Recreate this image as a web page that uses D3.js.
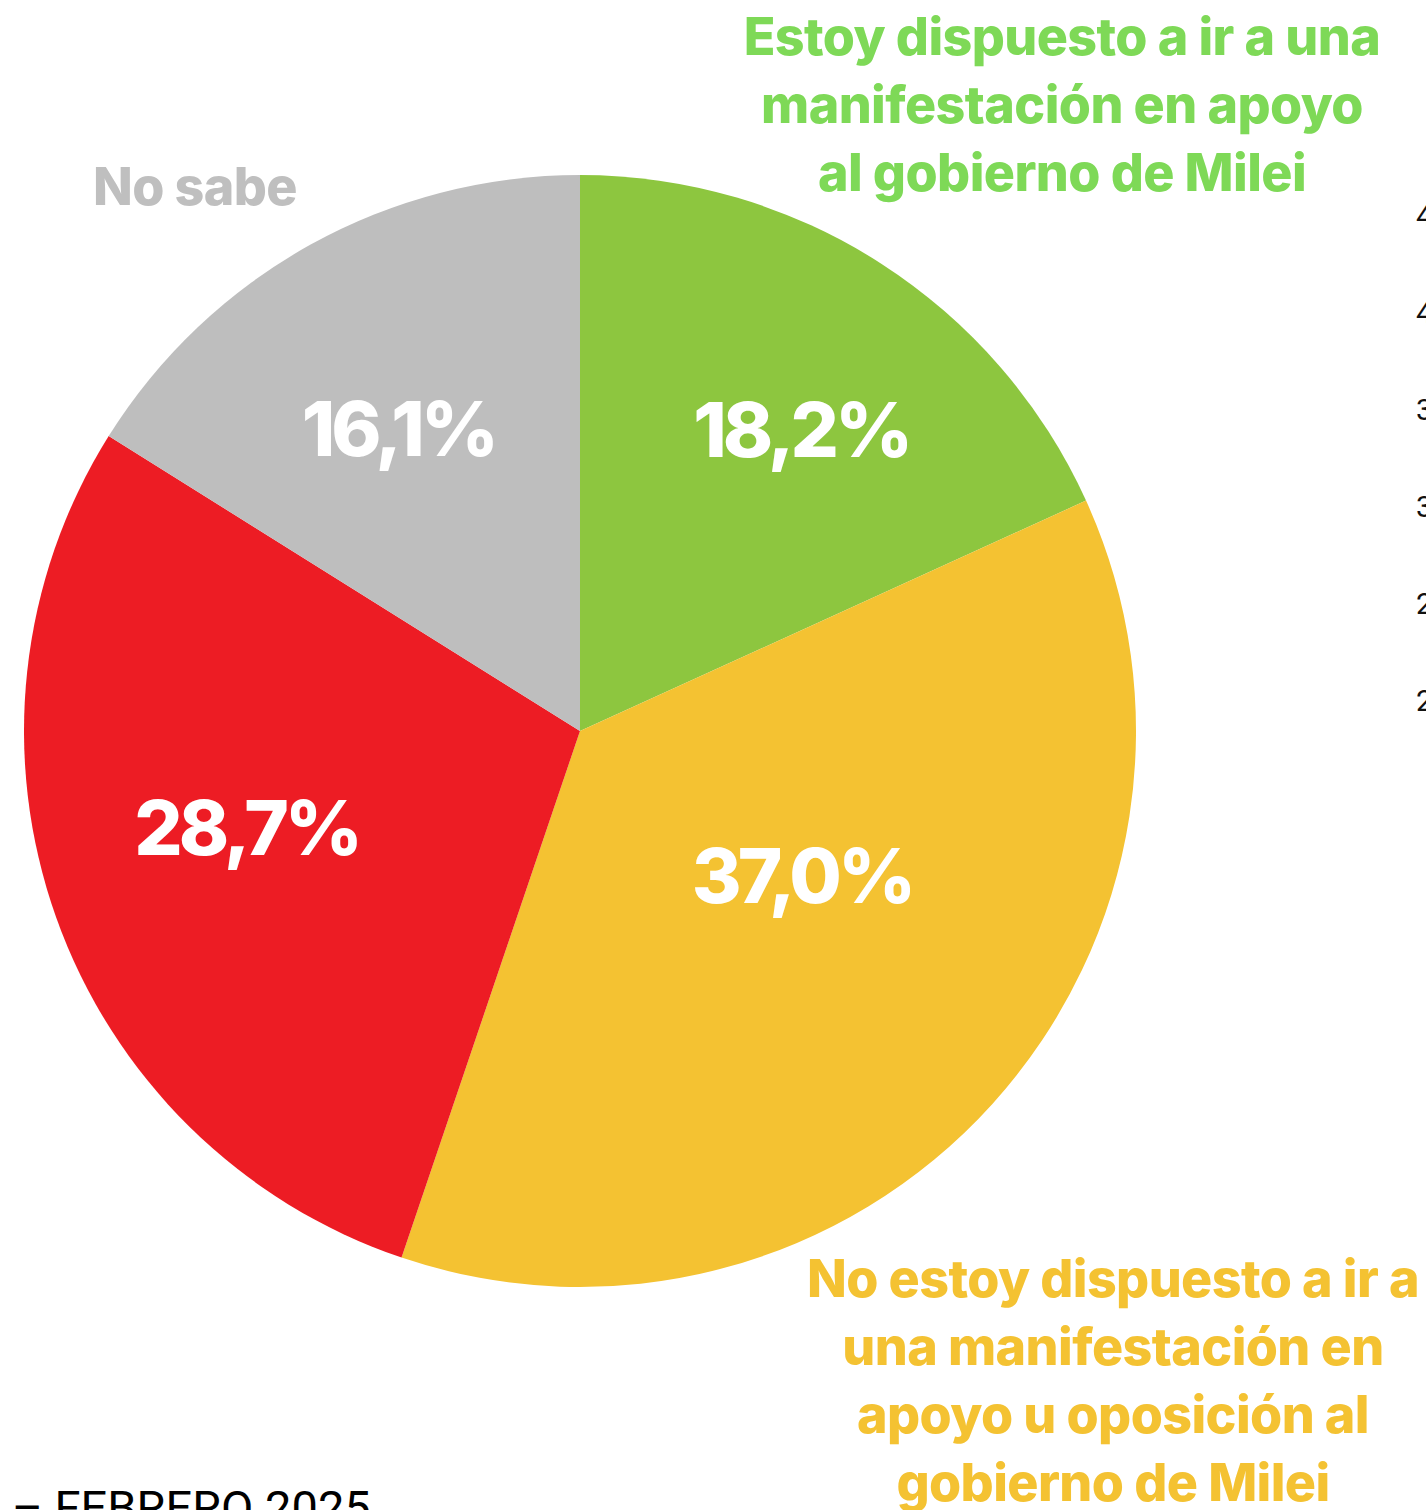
<!DOCTYPE html>
<html>
<head>
<meta charset="utf-8">
<script src="https://cdn.jsdelivr.net/npm/d3@7"></script>
<style>
  body { margin: 0; background: #ffffff; }
  svg { display: block; }
</style>
</head>
<body>
<div id="chart"></div>
<script>
/* DATA */
const categories = ["apoyo", "neutral", "oposicion", "nosabe"];
const values = [18.2, 37.0, 28.7, 16.1];
const valueLabels = ["18,2%", "37,0%", "28,7%", "16,1%"];
const categoryLabels = [
  ["Estoy dispuesto a ir a una", "manifestación en apoyo", "al gobierno de Milei"],
  ["No estoy dispuesto a ir a", "una manifestación en", "apoyo u oposición al", "gobierno de Milei"],
  [],
  ["No sabe"]
];
// tick labels of the neighbouring chart, cut by the right edge
const sideTicks = [45, 40, 35, 30, 25, 20];

/* CONSTANTS */
const width = 1426, height = 1510;
const cx = 580, cy = 731, radius = 556;
const sliceColors = ["#8DC63F", "#F4C232", "#ED1C24", "#BEBEBE"];
const textColors = ["#7ED957", "#F4C232", "#ED1C24", "#BFBFBF"];
const labelRadius = [374, 265, 347, 353];
const labelAngleShift = [3.5, -9, 3.5, -2];   // degrees
const titlePos = [[1062, 55], [1113, 1297], [0, 0], [195, 205]];
const font = "Inter, 'Noto Sans', sans-serif";

const svg = d3.select("#chart")
  .append("svg")
  .attr("width", width)
  .attr("height", height);

/* PIE */
const pie = d3.pie().sort(null).value(d => d.value);
const arc = d3.arc().innerRadius(0).outerRadius(radius);
const data = categories.map((c, i) => ({ key: c, value: values[i], i }));
const arcs = pie(data);

const g = svg.append("g").attr("transform", `translate(${cx},${cy})`);

g.selectAll("path")
  .data(arcs)
  .join("path")
  .attr("d", arc)
  .attr("fill", d => sliceColors[d.data.i]);

// value labels
g.selectAll(".value")
  .data(arcs)
  .join("text")
  .attr("class", "value")
  .attr("transform", d => {
    const a = (d.startAngle + d.endAngle) / 2 + labelAngleShift[d.data.i] * Math.PI / 180;
    const r = labelRadius[d.data.i];
    return `translate(${r * Math.sin(a)},${-r * Math.cos(a)})`;
  })
  .attr("text-anchor", "middle")
  .attr("dy", "0.36em")
  .attr("fill", "#ffffff")
  .style("font-family", font)
  .style("font-weight", 800)
  .style("font-size", "76px")
  .style("letter-spacing", "-4px")
  .text(d => valueLabels[d.data.i]);

// category labels
categoryLabels.forEach((lines, i) => {
  if (!lines.length) return;
  const t = svg.append("text")
    .attr("x", titlePos[i][0])
    .attr("y", titlePos[i][1])
    .attr("text-anchor", "middle")
    .attr("fill", textColors[i])
    .style("font-family", font)
    .style("font-weight", 800)
    .style("font-size", "52px")
    .style("letter-spacing", "-0.6px");
  lines.forEach((l, j) => {
    t.append("tspan")
      .attr("x", titlePos[i][0])
      .attr("dy", j === 0 ? 0 : 68)
      .text(l);
  });
});

/* SIDE AXIS (neighbouring chart) */
const yScale = d3.scaleLinear().domain([20, 45]).range([700, 215]);
svg.append("g")
  .selectAll("text")
  .data(sideTicks)
  .join("text")
  .attr("x", 1416)
  .attr("y", d => yScale(d))
  .attr("dy", "0.36em")
  .attr("fill", "#111")
  .style("font-family", "Roboto, sans-serif")
  .style("font-size", "30px")
  .text(d => d);

/* FOOTER */
svg.append("text")
  .attr("x", 12)
  .attr("y", 1524)
  .attr("fill", "#000")
  .style("font-family", "Roboto, sans-serif")
  .style("font-size", "47px")
  .text("– FEBRERO 2025");
</script>
</body>
</html>
